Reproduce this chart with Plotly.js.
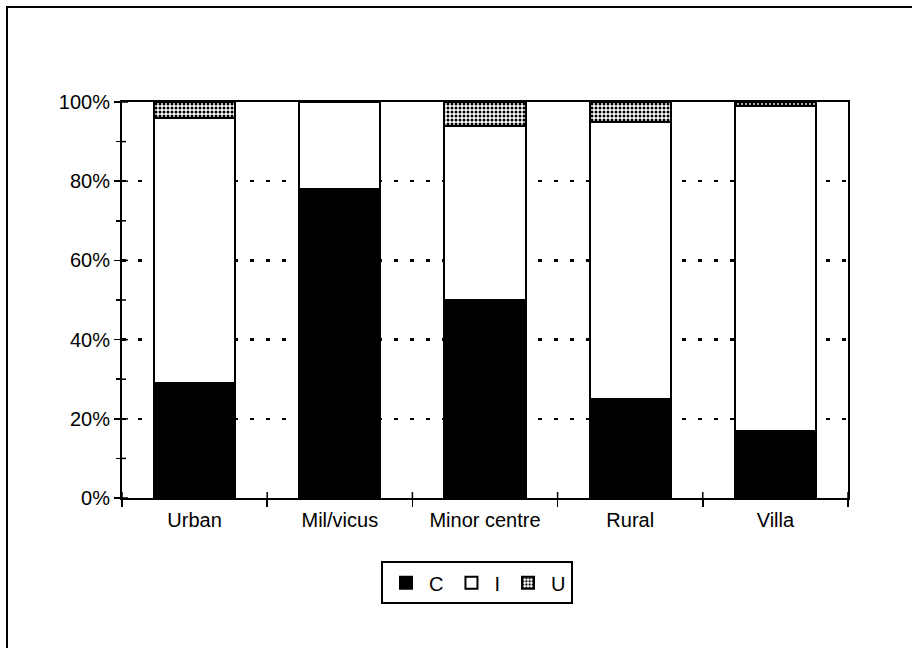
<!DOCTYPE html>
<html>
<head>
<meta charset="utf-8">
<script src="https://cdn.plot.ly/plotly-3.0.1.min.js"></script>
<style>html,body{margin:0;padding:0;background:#fff;}#chart{width:912px;height:648px;}</style>
</head>
<body>
<div id="chart"></div>
<script>
var categories = ["Urban", "Mil/vicus", "Minor centre", "Rural", "Villa"];
var valuesC = [29, 78, 50, 25, 17];
var valuesI = [67, 22, 44, 70, 82];
var valuesU = [4, 0, 6, 5, 1];
var yTickVals = [0, 20, 40, 60, 80, 100];
var yTickText = ["0%", "20%", "40%", "60%", "80%", "100%"];
var yMinorVals = [10, 30, 50, 70, 90];

var outline = {color: "#000", width: 2};
var traces = [
  {type: "bar", name: "C", x: categories, y: valuesC,
   marker: {color: "#000", line: outline}},
  {type: "bar", name: "I", x: categories, y: valuesI,
   marker: {color: "#fff", line: outline}},
  {type: "bar", name: "U", x: categories, y: valuesU,
   marker: {color: "#fff", line: outline,
     pattern: {shape: ".", fgcolor: "#000", bgcolor: "#fff", size: 4, solidity: 0.45}}}
];

var plotW = 912 - 122 - 64, plotH = 648 - 102 - 150;
var shapes = [
  {type: "rect", xref: "paper", yref: "paper", x0: -0.1584, x1: 1.1, y0: -0.4, y1: 1.2399,
   line: {color: "#000", width: 2}, fillcolor: "rgba(0,0,0,0)", layer: "above"}
];
// inner halves of the axis ticks (ticks cross the axis lines in the original)
yTickVals.forEach(function (v) {
  shapes.push({type: "line", xref: "paper", yref: "y", x0: 0, x1: 6 / plotW, y0: v, y1: v,
               line: {color: "#000", width: 1.5}, layer: "above"});
});
yMinorVals.forEach(function (v) {
  shapes.push({type: "line", xref: "paper", yref: "y", x0: 0, x1: 4 / plotW, y0: v, y1: v,
               line: {color: "#000", width: 1.5}, layer: "above"});
});
for (var i = 0; i <= categories.length; i++) {
  shapes.push({type: "line", xref: "x", yref: "paper", x0: i - 0.5, x1: i - 0.5, y0: 0, y1: 6 / plotH,
               line: {color: "#000", width: 1.5}, layer: "below"});
}

var font = {family: "Liberation Sans, Arial, sans-serif", size: 20, color: "#000"};
var layout = {
  width: 912, height: 648,
  margin: {l: 122, r: 64, t: 102, b: 150},
  paper_bgcolor: "#fff", plot_bgcolor: "#fff",
  barmode: "stack", bargap: 0.44,
  font: font,
  showlegend: true,
  legend: {orientation: "h", x: 0.489, xanchor: "center", y: -0.16, yanchor: "top",
           bordercolor: "#000", borderwidth: 2, font: font, traceorder: "normal",
           itemwidth: 36},
  xaxis: {type: "category", tickson: "boundaries", ticks: "outside", ticklen: 7,
          tickwidth: 1.5, tickcolor: "#000", showline: true, linecolor: "#000", linewidth: 2,
          mirror: true, showgrid: false, tickfont: font, ticklabelstandoff: 3,
          range: [-0.5, categories.length - 0.5]},
  yaxis: {range: [0, 100], tickvals: yTickVals, ticktext: yTickText, ticks: "outside",
          ticklen: 6, tickwidth: 1.5, tickcolor: "#000", showline: true, linecolor: "#000",
          linewidth: 2, mirror: true, showgrid: true, gridcolor: "#000", gridwidth: 2.5,
          griddash: "4px,12px", zeroline: false, tickfont: font,
          minor: {dtick: 10, tick0: 0, ticks: "outside", ticklen: 4, tickcolor: "#000", tickwidth: 1.5, showgrid: false}},
  shapes: shapes
};

Plotly.newPlot("chart", traces, layout, {staticPlot: true, displayModeBar: false});
</script>
</body>
</html>
